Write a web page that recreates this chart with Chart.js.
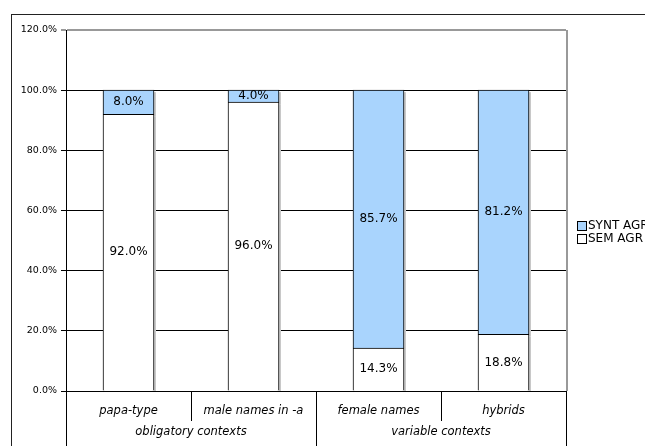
<!DOCTYPE html>
<html>
<head>
<meta charset="utf-8">
<script src="https://cdn.jsdelivr.net/npm/chart.js@4.4.0/dist/chart.umd.min.js"></script>
<style>
  html, body { margin: 0; padding: 0; background: #fff; overflow: hidden; }
  .frame { position: absolute; left: 11px; top: 14px; width: 700px; height: 500px; border: 1px solid #222; }
  .wrap { position: absolute; left: 0; top: 0; width: 645px; height: 446px; }
</style>
</head>
<body>
<div class="frame"></div>
<div class="wrap"><canvas id="chart"></canvas></div>
<script>
const categories = ['papa-type', 'male names in -a', 'female names', 'hybrids'];
const groups = ['obligatory contexts', 'variable contexts'];
const semAgr = [92.0, 96.0, 14.3, 18.8];
const syntAgr = [8.0, 4.0, 85.7, 81.2];
const yTicks = [0, 20, 40, 60, 80, 100, 120];

const FONT = 'DejaVu Sans';

function crisp(px) {
    return Math.round(px - 0.5) + 0.5;
}

// grey drop shadow on the right side of every bar
const barShadow = {
    id: 'barShadow',
    beforeDatasetsDraw(chart) {
        const ctx = chart.ctx;
        const area = chart.chartArea;
        ctx.save();
        ctx.fillStyle = '#c8c8c8';
        chart.data.datasets.forEach((ds, i) => {
            chart.getDatasetMeta(i).data.forEach(bar => {
                const p = bar.getProps(['x', 'y', 'base', 'width'], true);
                const top = Math.min(p.y, p.base) + 2;
                const bottom = Math.min(Math.max(p.y, p.base) + 2, area.bottom);
                ctx.fillRect(p.x + p.width / 2, top, 2, bottom - top);
            });
        });
        ctx.restore();
    }
};

// percentage written in the middle of each segment
const valueLabels = {
    id: 'valueLabels',
    afterDatasetsDraw(chart) {
        const ctx = chart.ctx;
        ctx.save();
        ctx.font = '12px "' + FONT + '"';
        ctx.fillStyle = '#000';
        ctx.textAlign = 'center';
        ctx.textBaseline = 'middle';
        chart.data.datasets.forEach((ds, i) => {
            chart.getDatasetMeta(i).data.forEach((bar, j) => {
                const p = bar.getProps(['x', 'y', 'base'], true);
                ctx.fillText(ds.data[j].toFixed(1) + '%', p.x, (p.y + p.base) / 2);
            });
        });
        ctx.restore();
    }
};

// vertical dividers between the category cells and the group cells under the axis
const separators = {
    id: 'separators',
    afterDraw(chart) {
        const ctx = chart.ctx;
        const area = chart.chartArea;
        ctx.save();
        ctx.strokeStyle = '#000';
        ctx.lineWidth = 1;
        [['x', chart.scales.x.bottom + 3], ['x2', chart.height]].forEach(([id, end]) => {
            const scale = chart.scales[id];
            const n = scale.getLabels().length;
            const half = (scale.getPixelForValue(1) - scale.getPixelForValue(0)) / 2;
            for (let i = 0; i <= n; i++) {
                const px = crisp(scale.getPixelForValue(i) - half);
                ctx.beginPath();
                ctx.moveTo(px, area.bottom);
                ctx.lineTo(px, end);
                ctx.stroke();
            }
        });
        ctx.restore();
    }
};

// plot frame on the right and the legend beside it
const sideLegend = {
    id: 'sideLegend',
    afterDraw(chart) {
        const ctx = chart.ctx;
        const area = chart.chartArea;
        ctx.save();
        ctx.strokeStyle = '#999';
        ctx.lineWidth = 2;
        ctx.beginPath();
        ctx.moveTo(area.right + 1, area.top);
        ctx.lineTo(area.right + 1, area.bottom);
        ctx.stroke();

        ctx.font = '12px "' + FONT + '"';
        ctx.textBaseline = 'middle';
        ctx.lineWidth = 1;
        ctx.strokeStyle = '#000';
        const items = chart.data.datasets.slice().reverse();
        const x = area.right + 11;
        const y0 = Math.round((area.top + area.bottom) / 2 + 15);
        items.forEach((ds, i) => {
            const y = y0 + i * 13;
            ctx.fillStyle = ds.backgroundColor;
            ctx.fillRect(x + 0.5, y - 4.5, 9, 9);
            ctx.strokeRect(x + 0.5, y - 4.5, 9, 9);
            ctx.fillStyle = '#000';
            ctx.fillText(ds.label, x + 11, y);
        });
        ctx.restore();
    }
};

const tickFont = { family: FONT, size: 11.5, style: 'italic', lineHeight: '13px' };

const chart = new Chart(document.getElementById('chart'), {
    type: 'bar',
    data: {
        labels: categories,
        datasets: [
            { label: 'SEM AGR', data: semAgr, backgroundColor: '#ffffff', borderColor: '#000', borderWidth: 1, barThickness: 51 },
            { label: 'SYNT AGR', data: syntAgr, backgroundColor: '#a9d4fd', borderColor: '#000', borderWidth: 1, barThickness: 51 }
        ]
    },
    options: {
        responsive: true,
        maintainAspectRatio: false,
        animation: false,
        layout: { padding: { left: 21, top: 30, right: 79, bottom: 7 } },
        plugins: { legend: { display: false }, tooltip: { enabled: false } },
        scales: {
            x: {
                stacked: true,
                position: 'bottom',
                weight: 0,
                grid: { offset: true, drawOnChartArea: false, tickLength: 14, tickColor: 'rgba(0,0,0,0)' },
                border: { color: '#000' },
                ticks: { padding: 0, maxRotation: 0, autoSkip: false, color: '#000', font: tickFont }
            },
            x2: {
                type: 'category',
                labels: groups,
                position: 'bottom',
                weight: 1,
                offset: true,
                grid: { offset: true, drawOnChartArea: false, tickLength: 8, tickColor: 'rgba(0,0,0,0)' },
                border: { display: false },
                ticks: { padding: 0, maxRotation: 0, autoSkip: false, color: '#000', font: tickFont }
            },
            y: {
                stacked: true,
                min: 0,
                max: 120,
                afterBuildTicks: axis => { axis.ticks = yTicks.map(v => ({ value: v })); },
                afterFit: axis => { axis.width = 45; },
                grid: {
                    tickLength: 5,
                    color: c => c.tick && c.tick.value === 120 ? '#999' : '#000',
                    lineWidth: c => c.tick && c.tick.value === 120 ? 2 : 1
                },
                border: { color: '#000' },
                ticks: { padding: 4, color: '#000', font: { family: FONT, size: 9.5 }, callback: v => v.toFixed(1) + '%' }
            }
        }
    },
    plugins: [barShadow, valueLabels, separators, sideLegend]
});
</script>
</body>
</html>
